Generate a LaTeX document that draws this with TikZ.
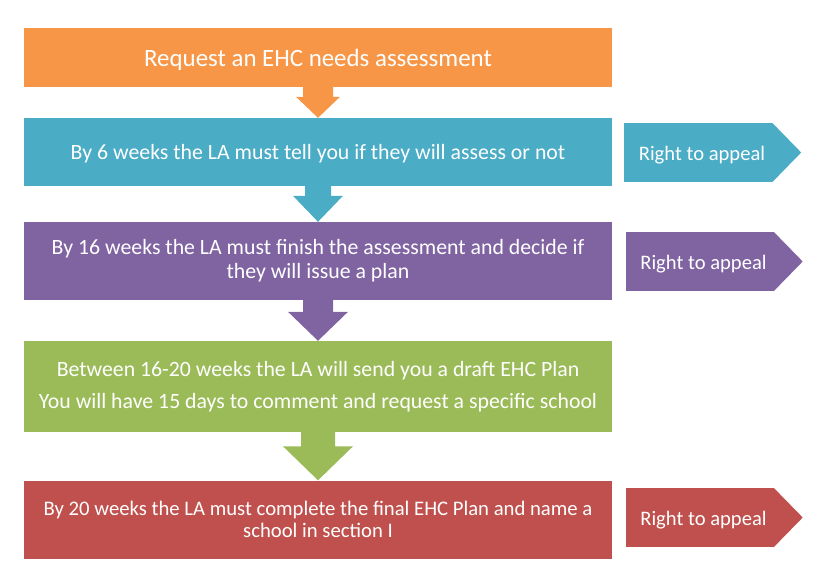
\documentclass[tikz,border=0pt]{standalone}
\usepackage{fontspec}
\setmainfont{Carlito}
\usetikzlibrary{calc}
\definecolor{cOrange}{HTML}{F79646}
\definecolor{cBlue}{HTML}{4BACC6}
\definecolor{cPurple}{HTML}{8064A2}
\definecolor{cGreen}{HTML}{9BBB59}
\definecolor{cRed}{HTML}{C0504D}
\tikzset{
  stagebox/.style={rectangle, minimum width=588pt, inner sep=0pt, text=white, align=center, font=\fontsize{21.8}{24}\selectfont},
  appealbody/.style={rectangle, minimum width=148pt, minimum height=59pt, inner sep=0pt, text=white, font=\fontsize{20.6}{24}\selectfont},
}
% block arrow: from node, to node, stem half width, head half width, head length, colour
\newcommand\flowarrow[6]{%
  \fill[#6] let \p1=(#1.south), \p2=(#2.north) in
    (\x1-#3pt,\y1) -- (\x1+#3pt,\y1) -- (\x1+#3pt,\y2+#5pt) -- (\x1+#4pt,\y2+#5pt)
    -- (\x2,\y2) -- (\x1-#4pt,\y2+#5pt) -- (\x1-#3pt,\y2+#5pt) -- cycle;}
\newcommand\appealtip[2]{%
  \fill[#2] (#1.north east) -- ($(#1.east)+(29pt,0)$) -- (#1.south east) -- cycle;}
\newcommand\lowered[2]{\raisebox{-#1pt}[\height][\depth]{#2}}
\begin{document}
\begin{tikzpicture}[x=1pt,y=-1pt]
\useasboundingbox (0,0) rectangle (823,582);
\node[stagebox, fill=cOrange, minimum height=59pt, font=\fontsize{24.9}{28}\selectfont] (s1) at (318,57.5) {\lowered{2}{Request an EHC needs assessment}};
\node[stagebox, fill=cBlue, minimum height=68pt] (s2) at (318,152) {\lowered{2}{By 6 weeks the LA must tell you if they will assess or not}};
\node[stagebox, fill=cPurple, minimum height=78pt] (s3) at (318,261) {By 16 weeks the LA must finish the assessment and decide if\\they will issue a plan};
\node[stagebox, fill=cGreen, minimum height=91pt] (s4) at (318,386.5) {Between 16-20 weeks the LA will send you a draft EHC Plan\\[8pt]You will have 15 days to comment and request a specific school};
\node[stagebox, fill=cRed, minimum height=78pt, font=\fontsize{20.7}{22.5}\selectfont] (s5) at (318,519.5) {By 20 weeks the LA must complete the final EHC Plan and name a\\school in section I};
\flowarrow{s1}{s2}{15}{22}{21}{cOrange}
\flowarrow{s2}{s3}{13}{25}{26}{cBlue}
\flowarrow{s3}{s4}{15}{30}{29}{cPurple}
\flowarrow{s4}{s5}{17}{35}{34}{cGreen}
\node[appealbody, fill=cBlue] (r1) at (698,152.5) {\lowered{3}{\hspace{8pt}Right to appeal}};
\appealtip{r1}{cBlue}
\node[appealbody, fill=cPurple] (r2) at (699.5,261.5) {\lowered{3}{\hspace{8pt}Right to appeal}};
\appealtip{r2}{cPurple}
\node[appealbody, fill=cRed] (r3) at (699.5,517.5) {\lowered{3}{\hspace{8pt}Right to appeal}};
\appealtip{r3}{cRed}
\end{tikzpicture}
\end{document}
